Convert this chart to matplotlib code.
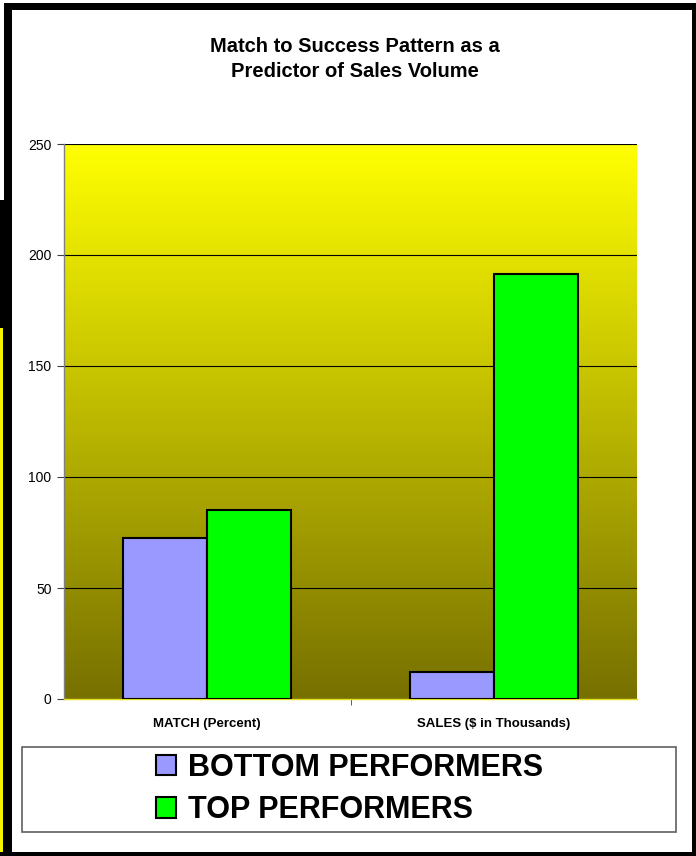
import numpy as np
import matplotlib
matplotlib.use("Agg")
import matplotlib.pyplot as plt
from matplotlib.patches import Rectangle, Patch
from matplotlib.colors import LinearSegmentedColormap

plt.rcParams["font.family"] = ["Liberation Sans", "DejaVu Sans"]

# data
categories = ["MATCH (Percent)", "SALES ($ in Thousands)"]
bottom_performers = [72.5, 12.2]
top_performers = [85.2, 191.4]
series_names = ["BOTTOM PERFORMERS", "TOP PERFORMERS"]
yticks = [0, 50, 100, 150, 200, 250]

W, H = 696, 856
fig = plt.figure(figsize=(W / 100, H / 100), dpi=100)
fig.patch.set_facecolor("white")


def px_rect(x0, y0, x1, y1, **kw):
    # rectangle in pixel coords (origin top-left) -> figure fraction
    fig.patches.append(Rectangle((x0 / W, 1 - y1 / H), (x1 - x0) / W, (y1 - y0) / H,
                                 transform=fig.transFigure, figure=fig, **kw))


# outer black frame (with the odd left strip)
px_rect(4, 3, 696, 10, color="black", lw=0)
px_rect(4, 3, 12, 856, color="black", lw=0)
px_rect(0, 200, 12, 856, color="black", lw=0)
px_rect(692, 3, 696, 856, color="black", lw=0)
px_rect(0, 852, 696, 856, color="black", lw=0)
px_rect(0, 328, 2.5, 852, color="#f5f500", lw=0)

# plot area
ax = fig.add_axes([64 / W, 1 - 699 / H, 573 / W, 555 / H])
ax.set_xlim(-0.5, 1.5)
ax.set_ylim(0, 250)

cmap = LinearSegmentedColormap.from_list("bg", ["#777000", "#ffff00"])
grad = np.linspace(0, 1, 256).reshape(-1, 1)
ax.imshow(grad, cmap=cmap, origin="lower", aspect="auto",
          extent=(-0.5, 1.5, 0, 250), zorder=0)

for v in yticks[1:]:
    ax.axhline(v, color="black", lw=0.8, zorder=1)

x = np.arange(len(categories))
w = 0.293
ax.bar(x - w / 2, bottom_performers, w, color="#9999ff", edgecolor="black", lw=1.5, zorder=3)
ax.bar(x + w / 2, top_performers, w, color="#00ff00", edgecolor="black", lw=1.5, zorder=3)

for s in ["top", "right"]:
    ax.spines[s].set_visible(False)
ax.spines["left"].set_color("#808080")
ax.spines["bottom"].set_color("#e0e020")
ax.spines["left"].set_linewidth(1.0)
ax.spines["bottom"].set_linewidth(1.0)

ax.set_yticks(yticks)
ax.tick_params(axis="y", length=5, color="#404040", labelsize=10, pad=4, direction="out")
ax.set_xticks(x)
ax.set_xticklabels(categories, fontsize=9.5, fontweight="bold")
ax.set_xticks([0.5], minor=True)
ax.tick_params(axis="x", which="major", length=0, pad=14)
ax.tick_params(axis="x", which="minor", length=4, color="#404040")

fig.text(355 / W, 1 - 59 / H, "Match to Success Pattern as a\nPredictor of Sales Volume",
         ha="center", va="center", fontsize=14.5, fontweight="bold", linespacing=1.45)

# legend box
px_rect(22, 747, 676, 832, facecolor="white", edgecolor="#606060", lw=1.2)
handles = [Patch(facecolor="#9999ff", edgecolor="black", lw=1.5),
           Patch(facecolor="#00ff00", edgecolor="black", lw=1.5)]
fig.legend(handles, series_names, loc="center", bbox_to_anchor=(350 / W, 1 - 789 / H),
           frameon=False, prop={"weight": "bold", "size": 22},
           handlelength=0.65, handleheight=0.65, handletextpad=0.4, labelspacing=0.4)

fig.savefig("out.png", dpi=100)
